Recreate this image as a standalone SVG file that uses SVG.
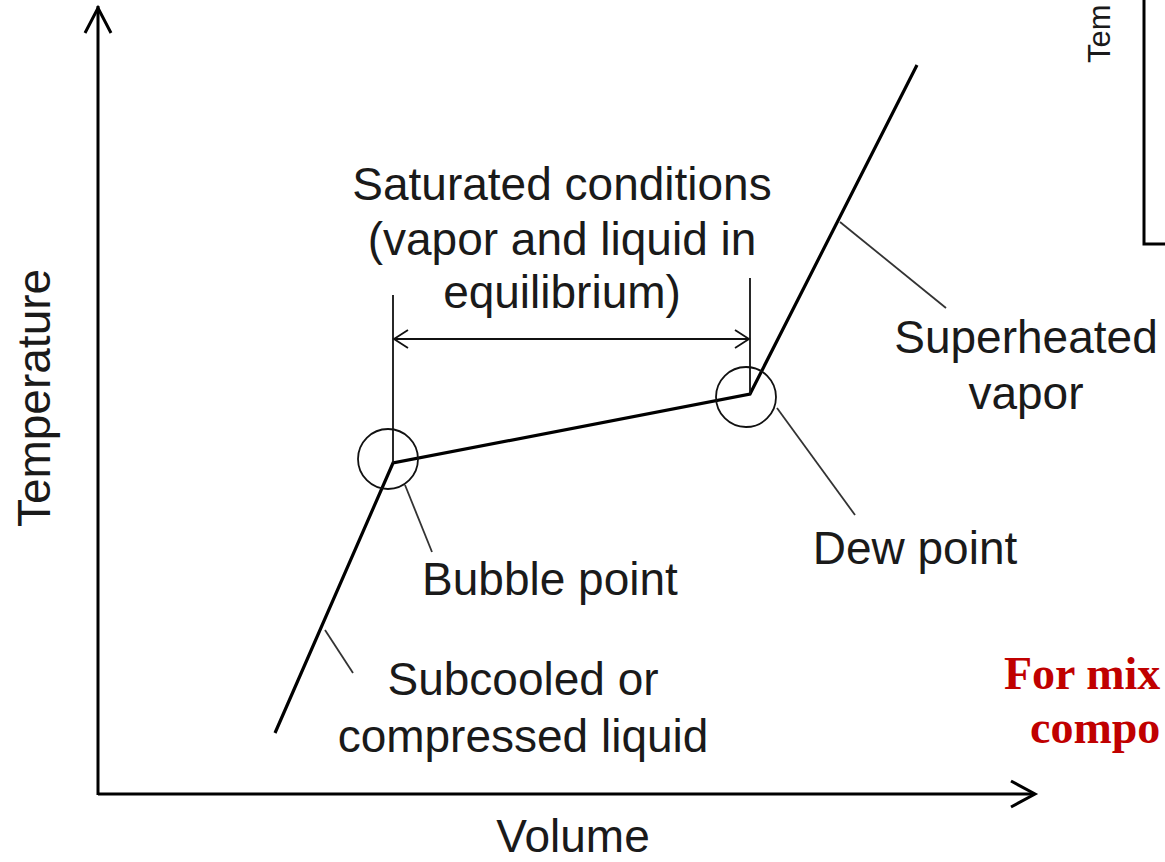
<svg xmlns="http://www.w3.org/2000/svg" width="1165" height="862" viewBox="0 0 1165 862">
<style>
.lbl{font-family:"Liberation Sans",Arial,sans-serif;font-size:46px;fill:#1a1a1a}
.axis{stroke:#000;stroke-width:3;fill:none}
.curve{stroke:#000;stroke-width:3.2;fill:none;stroke-linejoin:miter}
.thin{stroke:#111;stroke-width:1.8;fill:none}
.lead{stroke:#333;stroke-width:1.8;fill:none}
.red{font-family:"Liberation Serif","Times New Roman",serif;font-weight:bold;font-size:46px;fill:#c00000}
</style>
<defs>
<marker id="arrOpen" viewBox="0 0 20 20" refX="18" refY="10" markerWidth="20" markerHeight="20" markerUnits="userSpaceOnUse" orient="auto-start-reverse">
<path d="M4,1 L18,10 L4,19" fill="none" stroke="#111" stroke-width="1.8"/>
</marker>
</defs>
<rect width="1165" height="862" fill="#fff"/>
<g id="axes">
<path class="axis" d="M98,795 L98,6"/>
<path class="axis" d="M85,33 L98,8 L111,33"/>
<path class="axis" d="M98,794 L1034,794"/>
<path class="axis" d="M1011,781 L1035,794 L1011,807"/>
<text class="lbl" x="573" y="852" text-anchor="middle">Volume</text>
<text class="lbl" transform="translate(50,398) rotate(-90)" text-anchor="middle">Temperature</text>
</g>
<g id="curve">
<path class="curve" d="M275,733 L393,463 L750,394 L917,65"/>
</g>
<g id="connectors">
<path class="thin" d="M393,295 L393,463"/>
<path class="thin" d="M750,278 L750,394"/>
<path class="thin" d="M394,339 L749,339" marker-start="url(#arrOpen)" marker-end="url(#arrOpen)"/>
<path class="lead" d="M325,630 L353,673"/>
<path class="lead" d="M405,485 L432,552"/>
<path class="lead" d="M777,408 L855,515"/>
<path class="lead" d="M840,222 L946,308"/>
</g>
<g id="bubble-point">
<circle class="thin" cx="388" cy="459" r="30"/>
<text class="lbl" x="550" y="595" text-anchor="middle">Bubble point</text>
</g>
<g id="dew-point">
<circle class="thin" cx="746" cy="397" r="30"/>
<text class="lbl" x="915" y="564" text-anchor="middle">Dew point</text>
</g>
<g id="saturated">
<text class="lbl" x="562" y="200" text-anchor="middle">Saturated conditions</text>
<text class="lbl" x="562" y="255" text-anchor="middle">(vapor and liquid in</text>
<text class="lbl" x="562" y="308" text-anchor="middle">equilibrium)</text>
</g>
<g id="superheated">
<text class="lbl" x="1026" y="353" text-anchor="middle">Superheated</text>
<text class="lbl" x="1026" y="409" text-anchor="middle">vapor</text>
</g>
<g id="subcooled">
<text class="lbl" x="523" y="695" text-anchor="middle">Subcooled or</text>
<text class="lbl" x="523" y="752" text-anchor="middle">compressed liquid</text>
</g>
<g id="inset">
<path class="axis" d="M1144,0 L1144,244 L1168,244"/>
<text transform="translate(1110,63) rotate(-90)" style="font-family:'Liberation Sans',Arial,sans-serif;font-size:31px;fill:#1a1a1a">Tem</text>
</g>
<g id="note">
<text class="red" x="1004" y="689">For mix</text>
<text class="red" x="1030" y="743">compo</text>
</g>
</svg>
